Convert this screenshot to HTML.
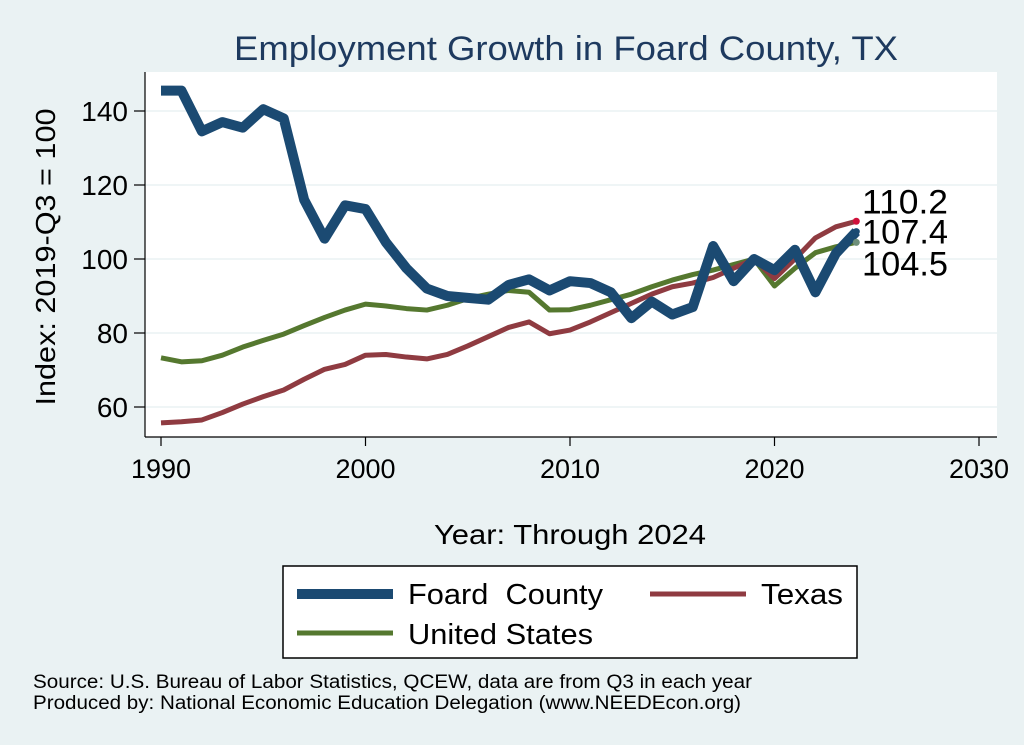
<!DOCTYPE html>
<html><head><meta charset="utf-8"><style>
body{margin:0;background:#eaf2f3;}
svg{display:block;font-family:"Liberation Sans",Arial,sans-serif;}
</style></head><body>
<svg id="c" width="1024" height="745">
<rect width="1024" height="745" fill="#eaf2f3"/>
<rect x="145" y="72" width="852" height="365" fill="#fff"/>
<text x="566" y="60" font-size="34" fill="#1e3a5f" text-anchor="middle" textLength="664" lengthAdjust="spacingAndGlyphs">Employment Growth in Foard County, TX</text>
<text transform="translate(55,257) rotate(-90)" font-size="28" text-anchor="middle" textLength="297" lengthAdjust="spacingAndGlyphs">Index: 2019-Q3 = 100</text>
<text x="570" y="544" font-size="28" text-anchor="middle" textLength="272" lengthAdjust="spacingAndGlyphs">Year: Through 2024</text>
<g id="grid"></g><g id="axes"></g><g id="series"></g><g id="labels"></g>
<g>
<rect x="283" y="566" width="574" height="92" fill="#fff" stroke="#000" stroke-width="1.5"/>
<line x1="297" y1="594" x2="393" y2="594" stroke="#1b4a72" stroke-width="10"/>
<text x="408" y="604" font-size="29" textLength="195" lengthAdjust="spacingAndGlyphs">Foard&#160; County</text>
<line x1="650" y1="594" x2="746" y2="594" stroke="#8f3b41" stroke-width="5"/>
<text x="761" y="604" font-size="29" textLength="82" lengthAdjust="spacingAndGlyphs">Texas</text>
<line x1="297" y1="633" x2="393" y2="633" stroke="#55782f" stroke-width="5"/>
<text x="408" y="644" font-size="29" textLength="185" lengthAdjust="spacingAndGlyphs">United States</text>
</g>
<text x="33" y="688" font-size="19" textLength="719" lengthAdjust="spacingAndGlyphs">Source: U.S. Bureau of Labor Statistics, QCEW, data are from Q3 in each year</text>
<text x="33" y="709" font-size="19" textLength="708" lengthAdjust="spacingAndGlyphs">Produced by: National Economic Education Delegation (www.NEEDEcon.org)</text>
</svg>
<script>
const years=[1990,1991,1992,1993,1994,1995,1996,1997,1998,1999,2000,2001,2002,2003,2004,2005,2006,2007,2008,2009,2010,2011,2012,2013,2014,2015,2016,2017,2018,2019,2020,2021,2022,2023,2024];
const foard=[145.5,145.5,134.5,137,135.5,140.5,138,116,105.5,114.5,113.5,104.5,97.5,92,90,89.5,89,93,94.5,91.5,94,93.5,91,84,88.5,85,87,103.5,94,100,97,102.5,91,101.5,107.4];
const texas=[55.7,56,56.5,58.5,60.8,62.8,64.6,67.5,70.2,71.5,74,74.2,73.5,73,74.2,76.5,79,81.5,83,79.8,80.8,83,85.5,88,90.5,92.5,93.5,95,97.5,100,94.7,100,105.7,108.7,110.2];
const us=[73.3,72.2,72.5,74,76.2,78,79.7,82,84.2,86.2,87.8,87.3,86.6,86.2,87.5,89.3,90.5,91.5,91,86.2,86.3,87.5,89,90.5,92.5,94.3,95.8,97,98.5,100,92.7,97.5,101.7,103.3,104.5];
const xTicks=[1990,2000,2010,2020,2030];
const yTicks=[60,80,100,120,140];
const X=y=>161+(y-1990)*(979-161)/40;
const Y=v=>407-(v-60)*3.7;
const NS="http://www.w3.org/2000/svg";
function mk(t,a,p){const e=document.createElementNS(NS,t);for(const k in a)e.setAttribute(k,a[k]);p.appendChild(e);return e;}
const grid=document.getElementById('grid'),axes=document.getElementById('axes'),ser=document.getElementById('series'),lab=document.getElementById('labels');
yTicks.forEach(v=>{
 const g=mk('line',{x1:145,x2:997,y1:Y(v),y2:Y(v),stroke:'#eaf2f3','stroke-width':1.5},grid);
 
 
 const t=mk('line',{x1:134,x2:145,y1:Y(v),y2:Y(v),stroke:'#000','stroke-width':1.2},axes);
 
 
 const l=mk('text',{x:128,y:Y(v)+10,'font-size':28,'text-anchor':'end'},axes);
 l.textContent=v;
 
 
});
const ya=mk('line',{x1:145,x2:145,y1:72,y2:437,stroke:'#000','stroke-width':1.2},axes);


const xa=mk('line',{x1:145,x2:997,y1:437,y2:437,stroke:'#000','stroke-width':1.2},axes);


xTicks.forEach(y=>{
 const t=mk('line',{x1:X(y),x2:X(y),y1:437,y2:446,stroke:'#000','stroke-width':1.2},axes);
 
 
 const l=mk('text',{x:X(y),y:478,'font-size':27,'text-anchor':'middle'},axes);
 l.textContent=y;
 
 
});
function line(arr,col,w,name){
 const p=mk('polyline',{points:arr.map((v,i)=>X(years[i])+','+Y(v)).join(' '),fill:'none',stroke:col,'stroke-width':w,'stroke-linejoin':'round'},ser);
 
 
}
line(us,'#55782f',5,'line-united-states');
line(texas,'#8f3b41',5,'line-texas');
line(foard,'#1b4a72',10,'line-foard-county');
const last=years.length-1;
[[texas,'#d0103a','end-dot-texas'],[foard,'#1b4a72','end-dot-foard'],[us,'#6e8f7a','end-dot-us']].forEach(([a,c,n])=>{
 const d=mk('circle',{cx:X(years[last]),cy:Y(a[last]),r:3.5,fill:c},ser);
 
 
});
[[texas,-8,'end-label-texas'],[foard,12,'end-label-foard'],[us,33,'end-label-us']].forEach(([a,dy,n])=>{
 const t=mk('text',{x:862,y:Y(a[last])+dy,'font-size':34,textLength:86,lengthAdjust:'spacingAndGlyphs'},lab);
 t.textContent=a[last].toFixed(1);
 
 
});
</script>
</body></html>
